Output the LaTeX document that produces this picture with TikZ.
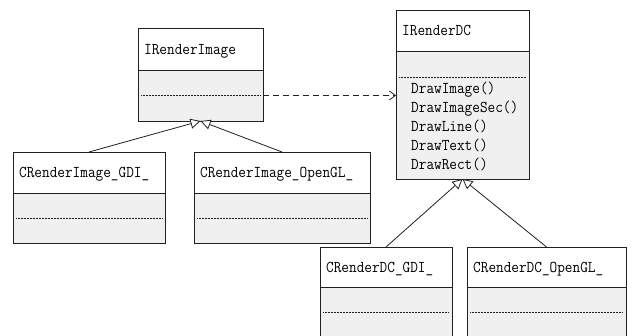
\documentclass[tikz,border=0pt]{standalone}
\usetikzlibrary{arrows.meta}
\definecolor{bodygray}{HTML}{F0F0F0}
\definecolor{edge}{HTML}{202020}
\newcommand\clstxt[1]{\scalebox{0.9}[1]{#1}}
\begin{document}
\begin{tikzpicture}[x=1pt,y=-1pt,
  box/.style={draw=edge, line width=0.9pt, anchor=north west, inner sep=0pt, outer sep=0pt},
  head/.style={box, fill=white},
  body/.style={box, fill=bodygray},
  lbl/.style={anchor=base west, inner sep=0pt, font=\ttfamily\fontsize{16.5}{18}\selectfont},
  sep/.style={line width=0.5pt, densely dotted, draw=edge},
  gen/.style={draw=edge, line width=0.8pt, -{Triangle[open, fill=white, length=10pt, width=10pt]}},
  dep/.style={draw=edge, line width=0.8pt, dash pattern=on 6pt off 4pt, -{Straight Barb[length=6pt, width=9pt]}}
]
\useasboundingbox (0,0) rectangle (632,335);
\clip (0,0) rectangle (632,335);

% IRenderImage
\node[head, minimum width=125pt, minimum height=42pt] (rih) at (138,28) {};
\node[body, minimum width=125pt, minimum height=51pt] (rib) at (138,70) {};
\node[lbl] (ritxt) at ([xshift=6pt, yshift=-5pt]rih.west) {\clstxt{IRenderImage}};
\draw[sep] ([xshift=3pt, yshift=-25pt]rib.north west) -- ([xshift=-3pt, yshift=-25pt]rib.north east);

% IRenderDC
\node[head, minimum width=133pt, minimum height=41pt] (dch) at (396,10) {};
\node[body, minimum width=133pt, minimum height=128pt] (dcb) at (396,51) {};
\node[lbl] (dctxt) at ([xshift=6pt, yshift=-5pt]dch.west) {\clstxt{IRenderDC}};
\draw[sep] ([xshift=3pt, yshift=-26pt]dcb.north west) -- ([xshift=-3pt, yshift=-26pt]dcb.north east);
\foreach \m [count=\i] in {DrawImage(),DrawImageSec(),DrawLine(),DrawText(),DrawRect()}
  \node[lbl] (m\i) at (411, 74+19*\i) {\clstxt{\m}};

% CRenderImage_GDI_
\node[head, minimum width=152pt, minimum height=41pt] (rgh) at (13,152) {};
\node[body, minimum width=152pt, minimum height=50pt] (rgb) at (13,193) {};
\node[lbl] (rgtxt) at ([xshift=6pt, yshift=-5pt]rgh.west) {\clstxt{CRenderImage\_GDI\_}};
\draw[sep] ([xshift=3pt, yshift=-25pt]rgb.north west) -- ([xshift=-3pt, yshift=-25pt]rgb.north east);

% CRenderImage_OpenGL_
\node[head, minimum width=176pt, minimum height=41pt] (roh) at (194,152) {};
\node[body, minimum width=176pt, minimum height=50pt] (rob) at (194,193) {};
\node[lbl] (rotxt) at ([xshift=6pt, yshift=-5pt]roh.west) {\clstxt{CRenderImage\_OpenGL\_}};
\draw[sep] ([xshift=3pt, yshift=-25pt]rob.north west) -- ([xshift=-3pt, yshift=-25pt]rob.north east);

% CRenderDC_GDI_
\node[head, minimum width=132pt, minimum height=40pt] (dgh) at (320,247) {};
\node[body, minimum width=132pt, minimum height=60pt] (dgb) at (320,287) {};
\node[lbl] (dgtxt) at ([xshift=6pt, yshift=-5pt]dgh.west) {\clstxt{CRenderDC\_GDI\_}};
\draw[sep] ([xshift=3pt, yshift=-25pt]dgb.north west) -- ([xshift=-3pt, yshift=-25pt]dgb.north east);

% CRenderDC_OpenGL_
\node[head, minimum width=159pt, minimum height=40pt] (doh) at (467,247) {};
\node[body, minimum width=159pt, minimum height=60pt] (dob) at (467,287) {};
\node[lbl] (dotxt) at ([xshift=6pt, yshift=-5pt]doh.west) {\clstxt{CRenderDC\_OpenGL\_}};
\draw[sep] ([xshift=3pt, yshift=-25pt]dob.north west) -- ([xshift=-3pt, yshift=-25pt]dob.north east);

% connectors
\draw[gen] (rgh.north) -- (rib.south);
\draw[gen] (roh.north) -- (rib.south);
\draw[gen] (dgh.north) -- (dcb.south);
\draw[gen] (doh.north) -- (dcb.south);
\draw[dep] (rib.east) -- (rib.east -| dcb.west);
\end{tikzpicture}
\end{document}
